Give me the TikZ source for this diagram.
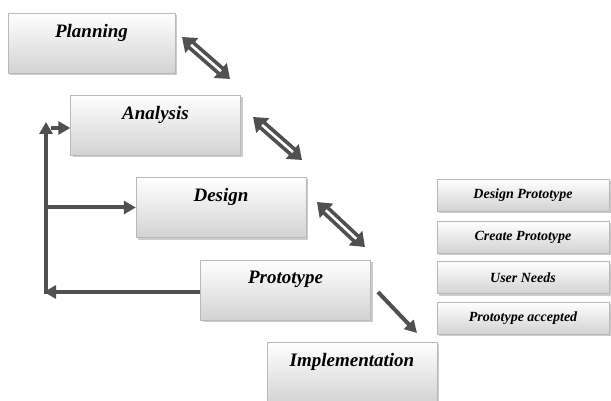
\documentclass[tikz,border=0pt]{standalone}
\usepackage{fontspec}
\setmainfont{Liberation Serif}
\usetikzlibrary{arrows.meta,shadows,calc}
\definecolor{arrgray}{HTML}{505050}
\begin{document}
\begin{tikzpicture}[x=1pt,y=-1pt,
  box/.style={draw=gray!55, top color=white, bottom color=gray!35,
    minimum width=170pt, minimum height=60pt, inner sep=0pt,
    drop shadow={shadow xshift=2pt, shadow yshift=-2pt, opacity=0.4, fill=gray}},
  sbox/.style={box, minimum width=172pt, minimum height=32pt,
    font=\bfseries\itshape\fontsize{14}{16}\selectfont},
  boxtext/.style={anchor=center, font=\bfseries\itshape\fontsize{19}{22}\selectfont},
  fb/.style={draw=arrgray, line width=4pt, -{Triangle[length=12pt,width=13pt]}},
  darr/.style={draw=arrgray, line width=10pt, {Triangle[length=13pt,width=19pt]}-{Triangle[length=13pt,width=19pt]}},
  dcore/.style={draw=white, line width=2.6pt, shorten <=12pt, shorten >=12pt}
]
\useasboundingbox (0,0) rectangle (611,401);

\node[box, minimum width=167pt, label={[boxtext, yshift=-20pt]north:Planning}] (plan) at (91.5,43) {};
\node[box, label={[boxtext, yshift=-20pt]north:Analysis}] (ana) at (155.5,125) {};
\node[box, label={[boxtext, yshift=-20pt]north:Design}] (des) at (221,207.5) {};
\node[box, label={[boxtext, yshift=-20pt]north:Prototype}] (proto) at (285.5,290) {};
\node[box, minimum height=62pt, label={[boxtext, yshift=-20pt]north:Implementation}] (impl) at (352,373) {};

\node[sbox] (s1) at (523,195) {Design Prototype};
\node[sbox] (s2) at (523,237) {Create Prototype};
\node[sbox] (s3) at (523,277.5) {User Needs};
\node[sbox] (s4) at (523,318) {Prototype accepted};

% double arrows
\coordinate (d1a) at (182,37); \coordinate (d1b) at (230,79);
\coordinate (d2a) at (253,117); \coordinate (d2b) at (302,160);
\coordinate (d3a) at (317,202); \coordinate (d3b) at (365,247);
\foreach \a/\b in {d1a/d1b, d2a/d2b, d3a/d3b}{
  \draw[darr] (\a) -- (\b);
  \draw[dcore] (\a) -- (\b);
}

% prototype to implementation
\coordinate (pi) at (378,292);
\coordinate (pit) at (417,333);
\draw[fb] (pi) -- (pit);

% feedback loop
\coordinate (fbB) at (46,294);
\coordinate (fbT) at (46,122);
\coordinate (fbL) at (44,292);
\coordinate (fbA) at (51,128);
\draw[fb] (fbB) -- (fbT);
\draw[fb] (proto.west |- fbL) -- (fbL);
\draw[fb] (fbB |- des.west) -- (des.west);
\draw[fb] (fbA) -- (ana.west |- fbA);
\end{tikzpicture}
\end{document}
